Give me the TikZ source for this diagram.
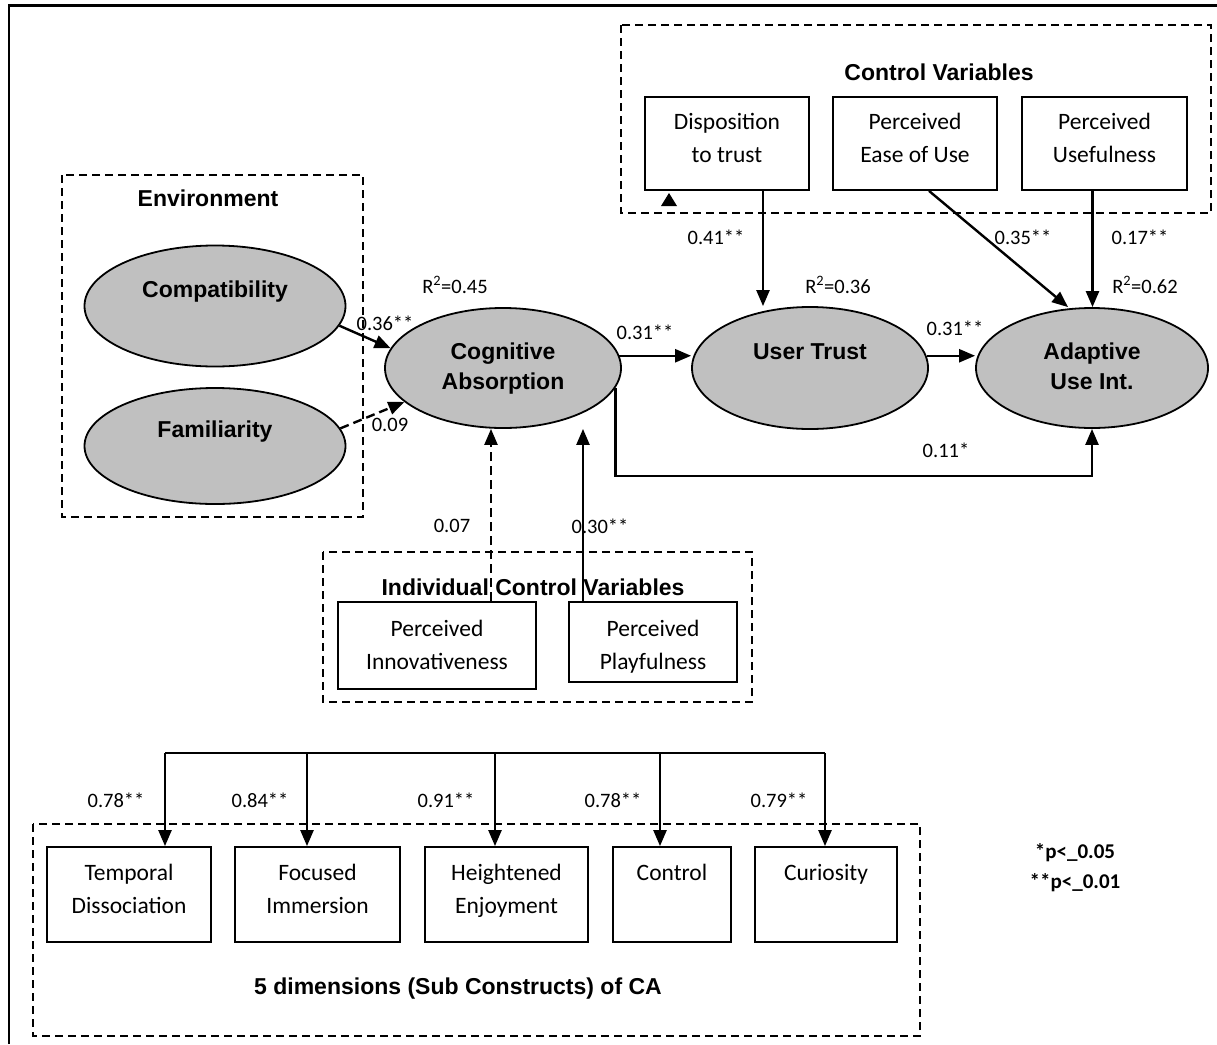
\documentclass[tikz,border=0pt]{standalone}
\usepackage{fontspec}
\setmainfont{Carlito}
\newfontfamily\arialf{Liberation Sans}
\usetikzlibrary{arrows.meta,shapes.geometric}
\definecolor{ellgray}{HTML}{C0C0C0}
\newcommand{\sst}{\vrule width 0pt height 19pt depth 14pt\relax}
\newcommand{\ist}{\vrule width 0pt height 24pt depth 9pt\relax}
\newcommand{\pst}{\vrule width 0pt height 27pt depth 6pt\relax}
\newcommand{\est}{\vrule width 0pt height 21pt depth 9pt\relax}
\begin{document}
\begin{tikzpicture}[x=1pt,y=-1pt,
  arr/.style={line width=2.4pt,-{Triangle[length=16pt,width=13pt]}},
  darr/.style={arr,dash pattern=on 9pt off 5pt},
  grp/.style={draw,line width=1.8pt,dash pattern=on 8pt off 5pt},
  ell/.style={ellipse,draw,line width=1.8pt,fill=ellgray,inner sep=0pt,align=center,font=\arialf\bfseries\fontsize{23}{30}\selectfont},
  bx/.style={rectangle,draw,line width=1.8pt,fill=white,inner sep=0pt,align=center,font=\fontsize{23.5}{33}\selectfont},
  lab/.style={font=\fontsize{20.5}{24}\selectfont,inner sep=0pt},
  ttl/.style={font=\arialf\bfseries\fontsize{23}{28}\selectfont,inner sep=0pt}]
\useasboundingbox (0,0) rectangle (1217,1044);
% frame
\draw[line width=2.6pt] (9,1044) -- (9,5.5) -- (1217,5.5);
% group boxes
\draw[grp] (621,25) rectangle (1211,213);
\draw[grp] (62,175) rectangle (363,517);
\draw[grp] (323,552) rectangle (752,702);
\draw[grp] (33,824) rectangle (920,1036);
% titles
\node[ttl] (tcv) at (939,72) {Control Variables};
\node[ttl] (tenv) at (208,198) {Environment};
\node[ttl] (tind) at (533,587) {Individual Control Variables};
\node[ttl] (tdim) at (458,989) {5 dimensions (Sub Constructs) of CA};
% ellipses
\node[ell,minimum width=261pt,minimum height=121pt] (comp) at (215,306) {\est Compatibility\\\est};
\node[ell,minimum width=261pt,minimum height=116pt] (fam) at (215,446) {\est Familiarity\\\est};
\node[ell,minimum width=236pt,minimum height=120pt] (ca) at (503,368) {\est Cognitive\\\est Absorption};
\node[ell,minimum width=236pt,minimum height=122pt] (ut) at (810,368) {\est User Trust\\\est};
\node[ell,minimum width=232pt,minimum height=120pt] (au) at (1092,368) {\est Adaptive\\\est Use Int.};
% control boxes
\node[bx,minimum width=164pt,minimum height=93pt] (disp) at (727,143.5) {\sst Disposition\\\sst to trust};
\node[bx,minimum width=164pt,minimum height=93pt] (peou) at (915,143.5) {\sst Perceived\\\sst Ease of Use};
\node[bx,minimum width=165pt,minimum height=93pt] (pu) at (1104.5,143.5) {\sst Perceived\\\sst Usefulness};
\node[bx,minimum width=198pt,minimum height=87pt] (pi) at (437,645.5) {\ist Perceived\\\ist Innovativeness};
\node[bx,minimum width=168pt,minimum height=80pt] (pp) at (653,642) {\pst Perceived\\\pst Playfulness};
% sub-construct boxes
\node[bx,minimum width=164pt,minimum height=95pt] (td) at (129,894.5) {\sst Temporal\\\sst Dissociation};
\node[bx,minimum width=165pt,minimum height=95pt] (fi) at (317.5,894.5) {\sst Focused\\\sst Immersion};
\node[bx,minimum width=163pt,minimum height=95pt] (he) at (506.5,894.5) {\sst Heightened\\\sst Enjoyment};
\node[bx,minimum width=118pt,minimum height=95pt] (co) at (672,894.5) {\sst Control\\\sst};
\node[bx,minimum width=142pt,minimum height=95pt] (cu) at (826,894.5) {\sst Curiosity\\\sst};
% stray arrow tip
\fill (661,206) -- (669,193) -- (677,206) -- cycle;
% structural arrows
\draw[arr] (comp.-9) -- (ca.170);
\draw[darr] (fam.8) -- (ca.199);
\draw[arr] (ca.6) -- (ca.6 -| ut.west);
\draw[arr] (ut.6) -- (ut.6 -| au.west);
\coordinate (low) at ([yshift=-47pt]au.south);
\draw[arr] (ca.-10) |- (low) -- (au.south);
\coordinate (d1) at ([xshift=36pt]disp.south);
\draw[arr] (d1) -- (d1 |- ut.north);
\coordinate (e1) at ([xshift=14pt]peou.south);
\coordinate (e2) at ([xshift=-24pt]au.north);
\draw[arr] (e1) -- (e2);
\coordinate (u1) at ([xshift=-12pt]pu.south);
\draw[arr] (u1) -- (u1 |- au.north);
\coordinate (i1) at ([xshift=54pt]pi.north);
\draw[darr] (i1) -- (i1 |- ca.south);
\coordinate (p1) at ([xshift=-70pt]pp.north);
\draw[arr] (p1) -- (p1 |- ca.south);
% bus to sub-constructs
\coordinate (bus) at (495,753);
\coordinate (c1) at ([xshift=36pt]td.north);
\coordinate (c2) at ([xshift=-10.5pt]fi.north);
\coordinate (c3) at ([xshift=-11.5pt]he.north);
\coordinate (c4) at ([xshift=-12pt]co.north);
\coordinate (c5) at ([xshift=-1pt]cu.north);
\draw[line width=2.4pt] (c1 |- bus) -- (c5 |- bus);
\foreach \c in {c1,c2,c3,c4,c5}{\draw[arr] (\c |- bus) -- (\c);}
% labels
\node[lab] (l1) at (385,323) {0.36**};
\node[lab] (l2) at (390,425) {0.09};
\node[lab] (l3) at (455,285) {R\textsuperscript{2}=0.45};
\node[lab] (l4) at (645,332) {0.31**};
\node[lab] (l5) at (838,285) {R\textsuperscript{2}=0.36};
\node[lab] (l6) at (955,328) {0.31**};
\node[lab] (l7) at (1145,285) {R\textsuperscript{2}=0.62};
\node[lab] (l8) at (716,237) {0.41**};
\node[lab] (l9) at (1023,237) {0.35**};
\node[lab] (l10) at (1140,237) {0.17**};
\node[lab] (l11) at (946,450) {0.11*};
\node[lab] (l12) at (452,526) {0.07};
\node[lab] (l13) at (600,526) {0.30**};
\node[lab] (m1) at (116,800) {0.78**};
\node[lab] (m2) at (260,800) {0.84**};
\node[lab] (m3) at (446,800) {0.91**};
\node[lab] (m4) at (613,800) {0.78**};
\node[lab] (m5) at (779,800) {0.79**};
% legend
\node[lab,font=\bfseries\fontsize{21}{24}\selectfont] (g1) at (1075,853) {*p<\_0.05};
\node[lab,font=\bfseries\fontsize{21}{24}\selectfont] (g2) at (1075,883) {**p<\_0.01};
\end{tikzpicture}
\end{document}
